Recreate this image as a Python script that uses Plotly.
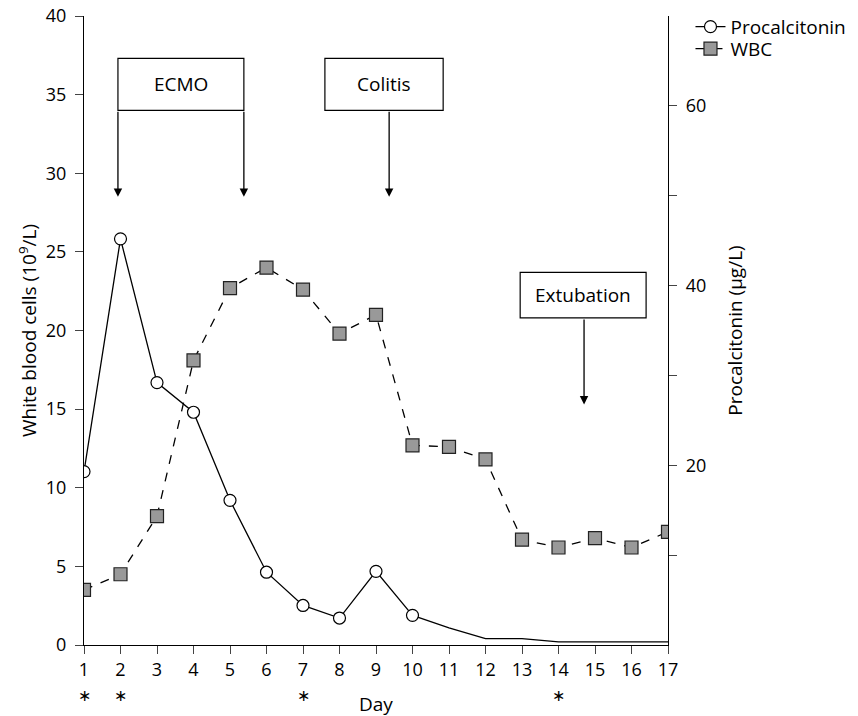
import plotly.graph_objects as go

days = list(range(1, 18))
wbc = [3.5, 4.5, 8.2, 18.1, 22.7, 24.0, 22.6, 19.8, 21.0, 12.7, 12.6, 11.8, 6.7, 6.2, 6.8, 6.2, 7.2]
procalcitonin = [19.3, 45.2, 29.2, 25.9, 16.1, 8.1, 4.4, 3.0, 8.2, 3.3, 1.9, 0.7, 0.7, 0.35, 0.35, 0.35, 0.35]
n_marked = 10  # procalcitonin markers shown for days 1-10
star_days = [1, 2, 7, 14]

events = [
    # label, box x0, box x1, box y0, box y1, arrow days, arrow tip
    ("ECMO", 1.93, 5.38, 34.0, 37.3, [1.93, 5.38], 28.5),
    ("Colitis", 7.60, 10.84, 34.0, 37.3, [9.36], 28.5),
    ("Extubation", 12.95, 16.40, 20.8, 23.7, [14.70], 15.3),
]

FONT = "'Open Sans', sans-serif"

fig = go.Figure()

fig.add_trace(go.Scatter(
    x=days[n_marked - 1:], y=procalcitonin[n_marked - 1:], yaxis="y2",
    mode="lines", line=dict(color="black", width=1.3), showlegend=False, hoverinfo="skip"))
fig.add_trace(go.Scatter(
    x=days[:n_marked], y=procalcitonin[:n_marked], yaxis="y2", name="Procalcitonin",
    mode="lines+markers", line=dict(color="black", width=1.3), legend="legend",
    marker=dict(symbol="circle", size=12, color="white", line=dict(color="black", width=1.2))))
fig.add_trace(go.Scatter(
    x=days, y=wbc, name="WBC", mode="lines+markers", legend="legend2",
    line=dict(color="black", width=1.3, dash="dash"),
    marker=dict(symbol="square", size=13, color="#999999", line=dict(color="#222222", width=1.2))))

shapes = []
annotations = []
for label, x0, x1, y0, y1, arrows, tip in events:
    shapes.append(dict(type="rect", xref="x", yref="y", x0=x0, x1=x1, y0=y0, y1=y1,
                       line=dict(color="black", width=1.2), fillcolor="white", layer="above"))
    annotations.append(dict(x=(x0 + x1) / 2, y=(y0 + y1) / 2, xref="x", yref="y", text=label,
                            showarrow=False, font=dict(size=19, color="black", family=FONT)))
    for ad in arrows:
        annotations.append(dict(x=ad, y=tip, xref="x", yref="y", ax=ad, ay=y0, axref="x", ayref="y",
                                showarrow=True, arrowhead=2, arrowsize=1.3, arrowwidth=1.3,
                                arrowcolor="black", text=""))

for d in star_days:
    annotations.append(dict(x=d, y=-0.0795, xref="x", yref="paper", text="∗", showarrow=False,
                            font=dict(size=16, color="black", family="'DejaVu Sans'"), yanchor="middle"))
annotations.append(dict(x=9, y=-0.0938, xref="x", yref="paper", text="Day", showarrow=False,
                        font=dict(size=19, color="black", family=FONT), yanchor="middle"))

legend_common = dict(xanchor="left", yanchor="top", bgcolor="rgba(0,0,0,0)",
                     font=dict(size=19), itemwidth=30)

fig.update_layout(
    width=858, height=716,
    margin=dict(l=84, r=190, t=16, b=71, autoexpand=False),
    paper_bgcolor="white", plot_bgcolor="white",
    font=dict(family=FONT, size=18, color="black"),
    xaxis=dict(range=[1, 17], tickvals=days, ticks="outside", ticklen=8, tickwidth=1.2,
               showline=True, linecolor="black", linewidth=1.3, showgrid=False, zeroline=False,
               tickfont=dict(size=18)),
    yaxis=dict(range=[0, 40], dtick=5, ticks="outside", ticklen=8, tickwidth=1.2,
               ticklabelstandoff=5,
               showline=True, linecolor="black", linewidth=1.3, showgrid=False, zeroline=False,
               title=dict(text="White blood cells (10<sup>9</sup>/L)", font=dict(size=19), standoff=4),
               tickfont=dict(size=18)),
    yaxis2=dict(range=[0, 70], overlaying="y", side="right", tickvals=[10, 20, 30, 40, 50, 60],
                ticktext=["", "20", "", "40", "", "60"], ticks="outside", ticklen=8, tickwidth=1.2,
                ticklabelstandoff=5,
                showline=True, linecolor="black", linewidth=1.3, showgrid=False, zeroline=False,
                title=dict(text="Procalcitonin (μg/L)", font=dict(size=19), standoff=23),
                tickfont=dict(size=18)),
    legend=dict(x=1.0385, y=1.013, **legend_common),
    legend2=dict(x=1.0385, y=0.978, **legend_common),
    shapes=shapes, annotations=annotations,
)

fig.write_html("out.html", config={"displayModeBar": False},
               post_script="document.body.style.margin='0';")
